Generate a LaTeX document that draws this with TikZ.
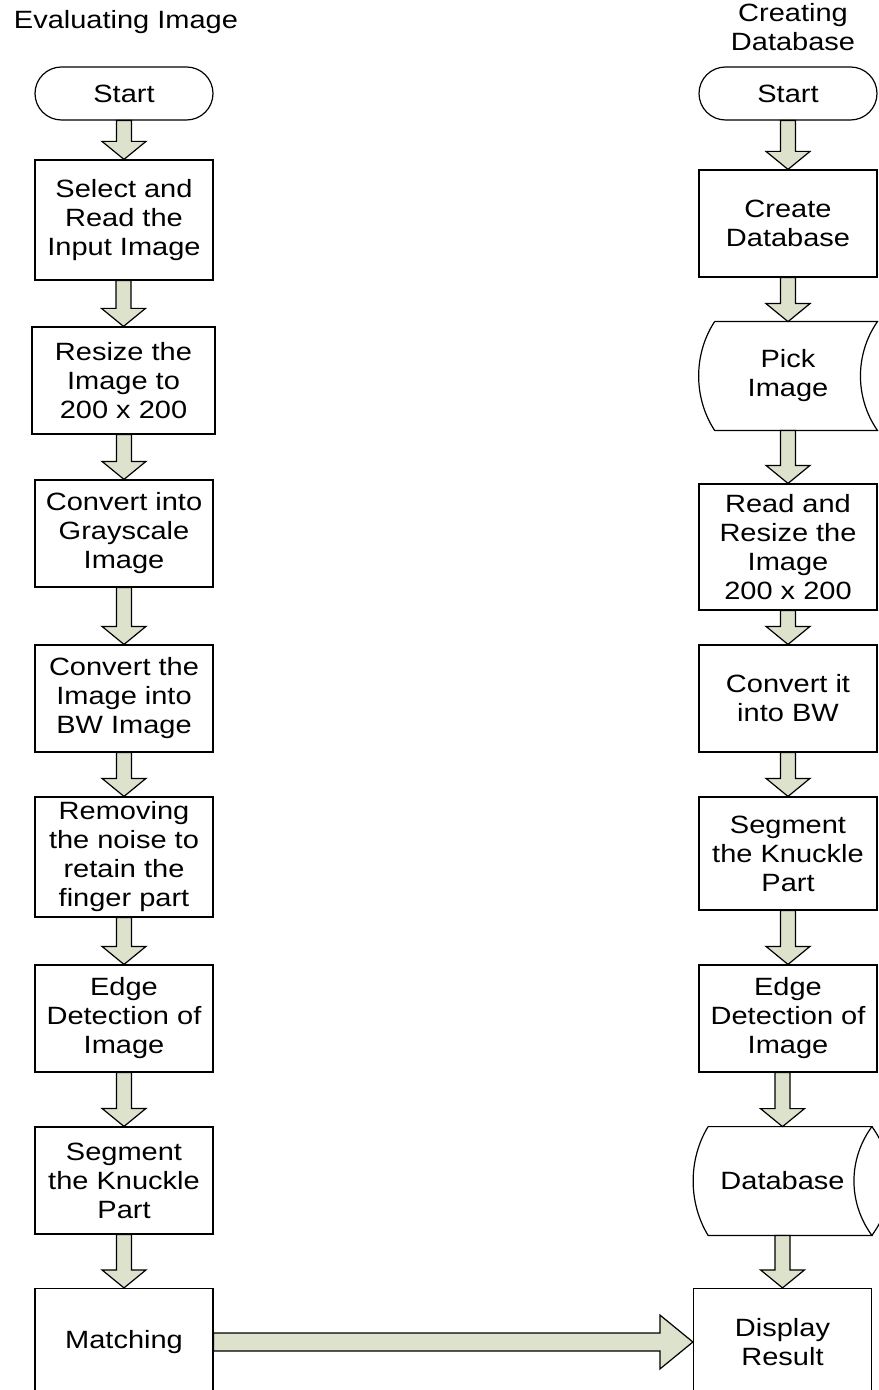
\documentclass[tikz,border=0pt]{standalone}
\usepackage{fontspec}
\setmainfont{Liberation Sans}[FakeStretch=1.16]
\usetikzlibrary{calc}
\definecolor{arrowfill}{RGB}{221,226,204}
\tikzset{
  process box/.style={
    draw,
    fill=white,
    line width=0.6pt,
    align=center,
    inner sep=0pt,
    minimum width=89pt,
    minimum height={#1*0.5pt},
  },
  process box/.default=107,
  terminal box/.style={
    process box=53,
    rounded corners=13.25pt,
  },
  storage box/.style={
    align=center,
    inner sep=0pt,
    minimum width=89pt,
    minimum height={#1*0.5pt},
  },
  storage outline/.style={
    draw,
    line width=0.6pt,
  },
  block arrow/.style={
    draw,
    fill=arrowfill,
    line width=0.6pt,
  },
  title label/.style={
    align=center,
    inner sep=0pt,
  }
}
% stored data round a node: #1 node, #2 left bulge, #3 right bulge
\newcommand{\storageoutline}[3]{%
  \draw[storage outline] ($(#1.north west)+(#2,0)$) -- (#1.north east)
    .. controls ($(#1.north east)!0.3!(#1.south east)+({-1.33*#3},0)$)
       and ($(#1.south east)!0.3!(#1.north east)+({-1.33*#3},0)$) .. (#1.south east)
    -- ($(#1.south west)+(#2,0)$)
    .. controls ($(#1.south west)!0.3!(#1.north west)+({-0.33*#2},0)$)
       and ($(#1.north west)!0.3!(#1.south west)+({-0.33*#2},0)$) .. ($(#1.north west)+(#2,0)$);
}
% same, closed on the right as a lying drum
\newcommand{\diskoutline}[3]{%
  \storageoutline{#1}{#2}{#3}
  \draw[storage outline] (#1.north east)
    .. controls ($(#1.north east)!0.3!(#1.south east)+({1.33*#3},0)$)
       and ($(#1.south east)!0.3!(#1.north east)+({1.33*#3},0)$) .. (#1.south east);
}
\newcommand{\flowdown}[2]{%
  \draw[block arrow] ($(#1.south -| #2.north)+(-7.5,0)$) -- ($(#2.north)+(-7.5,-18)$)
    -- ($(#2.north)+(-22,-18)$) -- (#2.north) -- ($(#2.north)+(22,-18)$)
    -- ($(#2.north)+(7.5,-18)$) -- ($(#1.south -| #2.north)+(7.5,0)$) -- cycle;
}
\newcommand{\flowright}[2]{%
  \draw[block arrow] ($(#1.east |- #2.west)+(0,-9)$) -- ($(#2.west)+(-33,-9)$)
    -- ($(#2.west)+(-33,-27)$) -- (#2.west) -- ($(#2.west)+(-33,27)$)
    -- ($(#2.west)+(-33,9)$) -- ($(#1.east |- #2.west)+(0,9)$) -- cycle;
}

\begin{document}
\begin{tikzpicture}[x=0.5pt, y=-0.5pt, font=\fontsize{12.5}{14.5}\selectfont]
        \useasboundingbox (0,0) rectangle (878,1390);

        % titles
        \node [title label] (evaltitle) at (126,22) {Evaluating Image};
        \node [title label] (dbtitle) at (793,27) {Creating\\Database};

        % evaluating image
        \node [terminal box] (evalstart) at (124,93.5) {Start};
        \node [process box=120] (select) at (124,220) {Select and\\Read the\\Input Image};
        \node [process box, minimum width=91.5pt] (resize) at (123.5,380.5) {Resize the\\Image to\\200 x 200};
        \node [process box] (gray) at (124,533.5) {Convert into\\Grayscale\\Image};
        \node [process box] (bw) at (124,698.5) {Convert the\\Image into\\BW Image};
        \node [process box=120] (noise) at (124,857) {Removing\\the noise to\\retain the\\finger part};
        \node [process box] (edge) at (124,1018.5) {Edge\\Detection of\\Image};
        \node [process box] (segment) at (124,1180.5) {Segment\\the Knuckle\\Part};
        \node [process box] (matching) at (124,1342) {Matching};

        % creating database
        \node [terminal box] (dbstart) at (788,93.5) {Start};
        \node [process box] (create) at (788,223.5) {Create\\Database};
        \node [storage box=108] (pick) at (788,376) {Pick\\Image};
        \node [process box=126] (readresize) at (788,547) {Read and\\Resize the\\Image\\200 x 200};
        \node [process box] (convertbw) at (788,698.5) {Convert it\\into BW};
        \node [process box=113] (knuckle) at (788,853.5) {Segment\\the Knuckle\\Part};
        \node [process box] (dbedge) at (788,1018.5) {Edge\\Detection of\\Image};
        \node [storage box=108] (database) at (782.5,1181) {Database};
        \node [process box] (display) at (782.5,1342) {Display\\Result};

        \storageoutline{pick}{16}{17}
        \diskoutline{database}{15}{18}

        \flowdown{evalstart}{select}
        \flowdown{select}{resize}
        \flowdown{resize}{gray}
        \flowdown{gray}{bw}
        \flowdown{bw}{noise}
        \flowdown{noise}{edge}
        \flowdown{edge}{segment}
        \flowdown{segment}{matching}

        \flowdown{dbstart}{create}
        \flowdown{create}{pick}
        \flowdown{pick}{readresize}
        \flowdown{readresize}{convertbw}
        \flowdown{convertbw}{knuckle}
        \flowdown{knuckle}{dbedge}
        \flowdown{dbedge}{database}
        \flowdown{database}{display}

        \flowright{matching}{display}
      \end{tikzpicture}
\end{document}
